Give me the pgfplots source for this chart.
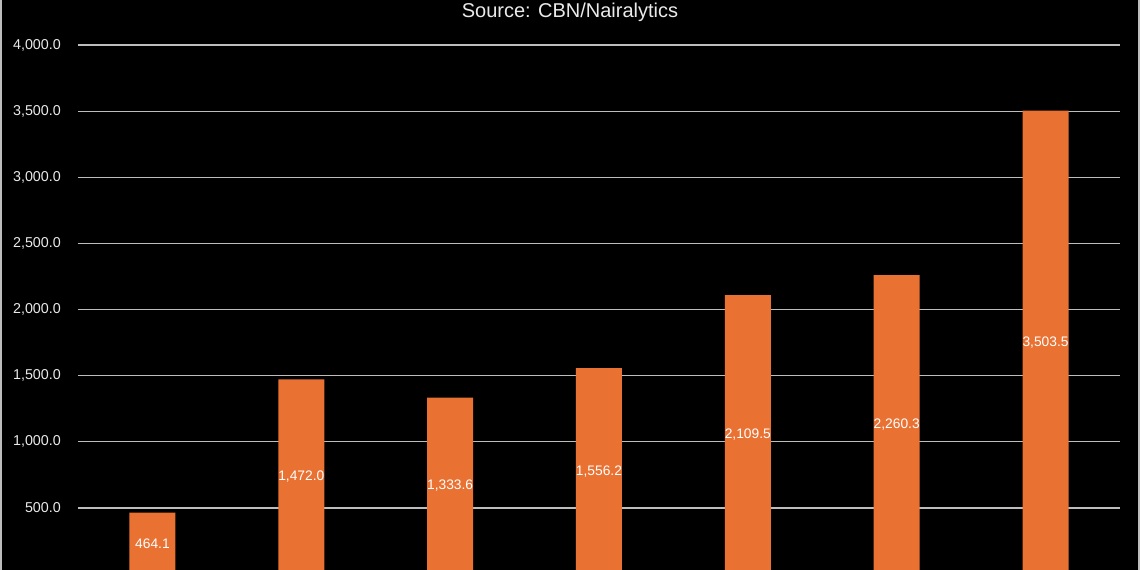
\documentclass[border=0pt]{standalone}
\usepackage{fontspec}
\setmainfont{Liberation Sans}
\usepackage{pgfplots}
\pgfplotsset{compat=1.18}
\usepackage{pgfplotstable}
\definecolor{barorange}{HTML}{E97132}
\definecolor{gridgray}{HTML}{BDBDBD}
\definecolor{txtgray}{HTML}{EAEAEA}
\pgfplotstableread{
x v
0 464.1
1 1472.0
2 1333.6
3 1556.2
4 2109.5
5 2260.3
6 3503.5
}\datatable
\begin{document}
\begin{tikzpicture}[x=1pt,y=1pt]
\fill[black] (0,0) rectangle (1140,570);
\path[use as bounding box] (0,0) rectangle (1140,570);
\draw[gridgray, line width=1.3pt] (1,0) -- (1,570);
\draw[gridgray, line width=1.3pt] (1139,0) -- (1139,570);
\begin{axis}[at={(78pt,0pt)}, anchor=south west, scale only axis,
  width=1042pt, height=570pt,
  xmin=-0.5, xmax=6.5, ymin=30.3, ymax=4340.9,
  axis line style={draw=none},
  major tick length=0pt,
  xtick=\empty,
  ytick={500,1000,...,4000},
  ymajorgrids,
  grid style={gridgray, line width=1.3pt},
  yticklabel style={font=\fontsize{14.3}{16}\selectfont, text=txtgray, anchor=east, inner sep=0pt, xshift=-17pt,
    /pgf/number format/.cd, fixed, fixed zerofill, precision=1, 1000 sep={,}, assume math mode=true},
  clip=true,
]
\addplot[ybar, bar width=46pt, fill=barorange, draw=none] table[x=x, y=v]{\datatable};
\addplot[draw=none, mark=none, point meta=explicit,
  nodes near coords={\pgfmathprintnumber[fixed, fixed zerofill, precision=1, 1000 sep={,}, assume math mode=true]{\pgfplotspointmeta}},
  nodes near coords style={anchor=center, text=white, inner sep=0pt, font=\fontsize{13.8}{16}\selectfont}]
  table[x=x, y expr=\thisrow{v}/2, meta=v]{\datatable};
\end{axis}
\node[anchor=base, text=txtgray, inner sep=0pt] at (570,552) {\fontsize{20}{24}\selectfont Source: CBN/Nairalytics};
\end{tikzpicture}
\end{document}
